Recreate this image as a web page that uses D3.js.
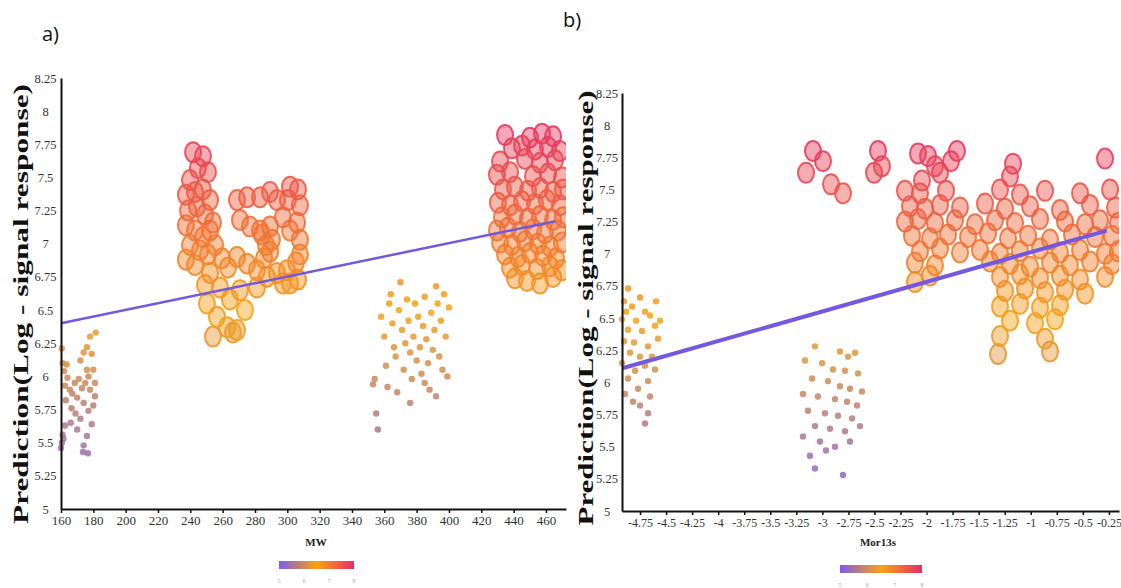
<!DOCTYPE html>
<html><head><meta charset="utf-8">
<script src="https://cdn.jsdelivr.net/npm/d3@7"></script>
<style>body{margin:0;background:#fff}svg{display:block}</style>
</head><body>
<svg id="c" width="1121" height="588"></svg>
<script>
// ---------- data ----------
const yTicks = [5,5.25,5.5,5.75,6,6.25,6.5,6.75,7,7.25,7.5,7.75,8,8.25];
const aXTicks = [160,180,200,220,240,260,280,300,320,340,360,380,400,420,440,460];
const bXTicks = [-4.75,-4.5,-4.25,-4,-3.75,-3.5,-3.25,-3,-2.75,-2.5,-2.25,-2,-1.75,-1.5,-1.25,-1,-0.75,-0.5,-0.25];
const legendTicks = [5,6,7,8];
const yTitle = "Prediction(Log - signal response)";

// panel a: small dots (MW, prediction)
const aDotsLeft = [[160.5,6.21],[161,6.10],[163.5,6.09],[162,6.04],[164,5.99],[162.5,5.93],[165.5,5.90],[163,5.82],[166.5,5.76],[162.5,5.63],[161,5.56],[160.5,5.50],[160,5.46],[161.5,5.53],[167,5.87],[168.5,5.95],[170,5.84],[171,5.98],[169,5.72],[172,5.68],[174,5.80],[173,5.91],[175,5.95],[176,6.05],[174,6.18],[176,6.22],[178,6.30],[179,6.17],[180,6.05],[178,5.90],[181,5.85],[180,5.78],[177,5.74],[179,5.64],[176,5.55],[174,5.48],[173.6,5.43],[176.7,5.42],[172,6.12],[181.5,6.33],[170,5.60],[166,5.65],[177,6.00],[181,5.95]];
const aDotsMid = [[353,5.94],[355,5.72],[356,5.60],[354,5.98],[358,6.45],[360,6.30],[361,6.08],[362,5.92],[364,6.62],[365,6.40],[366,6.22],[367,6.15],[368,5.88],[369,6.50],[370,6.71],[371,6.35],[372,6.05],[373,6.25],[374,6.58],[375,6.42],[376,6.18],[377,5.98],[378,6.30],[379,6.55],[380,6.12],[381,6.45],[382,6.22],[383,6.02],[384,6.38],[385,6.60],[386,6.28],[387,6.10],[388,5.90],[389,6.48],[390,6.20],[391,6.35],[392,5.85],[393,6.55],[394,6.15],[395,6.42],[396,6.05],[397,6.62],[398,6.30],[399,6.00],[400,6.52],[363,6.55],[376,5.80],[385,5.95],[392,6.68]];
// panel a: large circles
const aCircles = [
 [241.7,7.69],[247.8,7.66],[244.7,7.57],[250.9,7.54],[239.8,7.48],
 [237.3,7.37],[242.9,7.39],[247.8,7.41],[252.2,7.33],[238.6,7.25],[244.1,7.28],[249.1,7.22],[254.0,7.16],[237.3,7.14],[242.9,7.10],[247.8,7.05],[252.2,7.10],[239.8,6.99],[246.0,6.95],[250.9,6.92],[255.3,6.99],[237.3,6.88],[242.9,6.84],[259.6,6.89],[263.3,6.82],
 [268.9,7.33],[275.1,7.35],[283.1,7.35],[289.3,7.39],[293.6,7.33],[300.4,7.33],[301.7,7.43],[306.6,7.41],[307.8,7.29],
 [270.7,7.18],[276.9,7.13],[283.1,7.10],[289.3,7.13],[297.3,7.20],[301.7,7.10],[306.0,7.16],[307.8,7.03],
 [284.3,7.07],[286.8,6.99],[289.3,6.94],[285.6,6.89],[290.5,7.03],
 [268.9,6.90],[275.1,6.85],[281.2,6.80],[287.4,6.75],[293.6,6.78],[299.8,6.80],[301.7,6.70],[297.3,6.70],[281.2,6.67],[305.4,6.86],[306.6,6.73],[307.8,6.92],
 [252.2,6.78],[258.4,6.67],[250.3,6.55],[256.5,6.45],[262.7,6.37],[266.4,6.33],[254.0,6.30],[268.9,6.35],[249.1,6.69],[264.5,6.58],[270.7,6.65],[273.8,6.50],
 [434.7,7.82],[450.1,7.80],[457.6,7.83],[464.4,7.81],
 [439.0,7.72],[445.2,7.74],[453.2,7.71],[461.3,7.73],[468.7,7.70],
 [431.6,7.62],[447.0,7.64],[456.3,7.61],[465.6,7.63],
 [429.7,7.52],[437.8,7.54],[452.0,7.51],[461.3,7.53],[469.9,7.50],
 [433.4,7.41],[440.8,7.43],[448.9,7.40],[456.3,7.42],[464.4,7.39],[470.5,7.41],
 [430.3,7.31],[437.8,7.29],[445.2,7.32],[453.2,7.30],[460.6,7.33],[468.7,7.29],
 [432.8,7.20],[440.8,7.22],[448.9,7.19],[456.3,7.21],[464.4,7.18],[470.5,7.20],
 [429.7,7.10],[436.5,7.12],[443.9,7.09],[452.0,7.11],[459.4,7.08],[467.4,7.10],
 [431.6,7.01],[439.0,6.99],[447.0,7.02],[455.1,7.00],[462.5,6.98],[469.9,7.01],
 [434.7,6.92],[442.7,6.90],[450.1,6.93],[458.2,6.91],[466.2,6.89],
 [437.8,6.82],[445.2,6.84],[454.5,6.81],[462.5,6.83],[469.9,6.80],
 [440.8,6.74],[448.3,6.72],[456.3,6.70],[464.4,6.75]
];
const aFit = [[160,6.40],[465.6,7.17]];

// panel b: small dots (Mor13s, prediction)
const bDotsLeft = [[-4.865,6.73],[-4.75,6.66],[-4.904,6.63],[-4.827,6.59],[-4.702,6.55],[-4.923,6.49],[-4.788,6.48],[-4.654,6.52],[-4.865,6.41],[-4.731,6.40],[-4.606,6.44],[-4.904,6.32],[-4.808,6.31],[-4.673,6.28],[-4.577,6.34],[-4.846,6.23],[-4.75,6.20],[-4.635,6.20],[-4.923,6.15],[-4.702,6.13],[-4.798,6.09],[-4.606,6.10],[-4.865,6.03],[-4.673,6.01],[-4.769,5.95],[-4.894,5.91],[-4.654,5.89],[-4.75,5.82],[-4.673,5.76],[-4.702,5.68],[-4.817,5.85],[-4.596,6.63],[-4.558,6.48],[-4.884,6.55]];
const bDotsMid = [[-3.071,6.28],[-2.831,6.24],[-2.754,6.20],[-2.686,6.23],[-3.167,6.17],[-3.003,6.15],[-2.898,6.10],[-2.783,6.09],[-2.658,6.07],[-3.099,6.03],[-2.946,6.01],[-2.831,5.97],[-2.735,5.95],[-2.620,5.93],[-3.186,5.91],[-3.042,5.89],[-2.879,5.87],[-2.763,5.85],[-2.667,5.82],[-3.138,5.78],[-2.975,5.76],[-2.850,5.74],[-2.715,5.72],[-3.071,5.66],[-2.927,5.64],[-2.783,5.62],[-3.186,5.58],[-3.023,5.54],[-2.879,5.50],[-3.119,5.43],[-3.071,5.33],[-2.802,5.28],[-2.965,5.47],[-2.735,5.54],[-2.639,5.66]];
const bCircles = [
 [-3.157,7.63],[-3.090,7.80],[-2.994,7.72],[-2.917,7.54],[-2.802,7.47],[-2.466,7.80],[-2.428,7.68],[-2.504,7.63],[-2.082,7.78],[-1.986,7.76],[-2.044,7.57],[-1.871,7.63],[-1.765,7.72],[-1.708,7.80],[-1.813,7.49],[-1.919,7.68],[-1.170,7.70],[-0.287,7.74],
 [-1.199,7.60],
 [-2.207,7.49],[-2.063,7.47],[-1.295,7.50],[-1.103,7.46],[-0.863,7.49],[-0.527,7.47],[-0.239,7.50],
 [-2.159,7.37],[-2.015,7.35],[-1.871,7.38],[-1.679,7.36],[-1.439,7.39],[-1.247,7.35],[-1.007,7.37],[-0.719,7.34],[-0.431,7.38],[-0.191,7.36],
 [-2.207,7.25],[-2.082,7.27],[-1.919,7.24],[-1.727,7.26],[-1.535,7.23],[-1.343,7.26],[-1.151,7.24],[-0.911,7.27],[-0.671,7.25],[-0.479,7.23],[-0.335,7.26],[-0.163,7.24],
 [-2.140,7.14],[-1.967,7.12],[-1.794,7.15],[-1.602,7.13],[-1.410,7.16],[-1.218,7.12],[-1.026,7.14],[-0.815,7.11],[-0.604,7.15],[-0.383,7.13],[-0.220,7.14],
 [-2.063,7.02],[-1.871,7.04],[-1.679,7.01],[-1.487,7.03],[-1.295,7.00],[-1.103,7.02],[-0.911,7.04],[-0.719,7.01],[-0.527,7.03],[-0.287,7.00],[-0.163,7.02],
 [-2.111,6.93],[-1.919,6.91],[-1.391,6.94],[-1.199,6.92],[-1.007,6.90],[-0.815,6.93],[-0.623,6.91],[-0.431,6.94],[-0.220,6.92],
 [-1.967,6.83],[-2.111,6.78],[-1.295,6.82],[-1.103,6.84],[-0.911,6.81],[-0.719,6.83],[-0.527,6.80],[-0.287,6.82],
 [-1.247,6.71],[-1.055,6.73],[-0.863,6.70],[-0.671,6.72],[-0.479,6.69],
 [-1.295,6.59],[-1.103,6.61],[-0.911,6.58],[-0.719,6.60],
 [-1.199,6.48],[-0.959,6.46],[-0.767,6.49],
 [-1.295,6.36],[-0.863,6.34],
 [-1.314,6.22],[-0.815,6.24]
];
const bFit = [[-4.92,6.11],[-0.27,7.18]];

// ---------- drawing ----------
const svg = d3.select("#c");
const colorStops = ["#7b5cf2","#b88078","#f6a416","#ee693e","#e12d6d"];
const color = d3.scaleLinear().domain([5,5.75,6.5,7.25,8]).range(colorStops);

const defs = svg.append("defs");
const grad = defs.append("linearGradient").attr("id","cbar");
colorStops.forEach((c,i)=>grad.append("stop").attr("offset",(i*25)+"%").attr("stop-color",c));

function panel(cfg){
  const x = d3.scaleLinear().domain(cfg.xDomain).range(cfg.xRange);
  const y = d3.scaleLinear().domain([5,8.25]).range(cfg.yRange);
  const g = svg.append("g");
  const clipId = "clip"+cfg.id;
  defs.append("clipPath").attr("id",clipId).append("rect")
    .attr("x",cfg.xRange[0]-6).attr("y",cfg.yRange[1]-5)
    .attr("width",cfg.xRange[1]-cfg.xRange[0]+6).attr("height",cfg.yRange[0]-cfg.yRange[1]+5);
  const plot = g.append("g").attr("clip-path",`url(#${clipId})`);

  const dots = cfg.dots.slice().sort((a,b)=>a[1]-b[1]);
  plot.selectAll("circle.dot").data(dots).join("circle").attr("class","dot")
    .attr("cx",d=>x(d[0])).attr("cy",d=>y(d[1])).attr("r",3.2)
    .attr("fill",d=>color(d[1])).attr("fill-opacity",0.85);

  const circ = cfg.circles.slice().sort((a,b)=>a[1]-b[1]);
  plot.selectAll("ellipse").data(circ).join("ellipse")
    .attr("cx",d=>x(d[0])).attr("cy",d=>y(d[1])).attr("rx",8).attr("ry",10)
    .attr("fill",d=>color(d[1])).attr("fill-opacity",0.45)
    .attr("stroke",d=>color(d[1])).attr("stroke-opacity",0.9).attr("stroke-width",2);

  plot.append("path").datum(cfg.fit)
    .attr("d",d3.line().x(d=>x(d[0])).y(d=>y(d[1])))
    .attr("stroke","#7358e0").attr("stroke-width",cfg.fitW).attr("fill","none");

  // axes
  const ya = g.append("g").attr("transform",`translate(${cfg.xRange[0]},0)`)
    .call(d3.axisLeft(y).tickValues(yTicks).tickSize(0).tickPadding(0).tickFormat(d=>String(d)));
  ya.select(".domain").attr("stroke","#111").attr("stroke-width",2);
  ya.selectAll("text").attr("x",cfg.yLabelX - cfg.xRange[0]).attr("text-anchor","middle")
    .attr("font-family","Liberation Serif").attr("font-size",12.5).attr("fill","#333");

  const xa = g.append("g").attr("transform",`translate(0,${cfg.yRange[0]})`)
    .call(d3.axisBottom(x).tickValues(cfg.xTicks).tickSizeInner(4).tickSizeOuter(0).tickPadding(3).tickFormat(d=>String(d)));
  xa.select(".domain").attr("stroke","#111").attr("stroke-width",2);
  xa.selectAll(".tick line").attr("stroke","#111").attr("stroke-width",1.5);
  xa.selectAll("text").attr("font-family","Liberation Serif").attr("font-size",cfg.xFont).attr("fill","#333");

  // y title
  g.append("text").attr("transform",`translate(${cfg.yTitleX},${cfg.yTitleY}) rotate(-90)`)
    .attr("text-anchor","middle").attr("font-family","Liberation Serif").attr("font-weight","bold")
    .attr("font-size",22).attr("textLength",cfg.yTitleLen).attr("lengthAdjust","spacingAndGlyphs")
    .attr("fill","#111").text(yTitle);

  // panel letter
  g.append("text").attr("x",cfg.letterX).attr("y",cfg.letterY).attr("font-family","Open Sans")
    .attr("font-size",20).attr("fill","#111").text(cfg.letter);

  // x title
  g.append("text").attr("x",cfg.xTitleX).attr("y",546).attr("text-anchor","middle")
    .attr("font-family","Liberation Serif").attr("font-weight","bold").attr("font-size",11)
    .attr("fill","#222").text(cfg.xTitle);

  // colour legend
  const lx = d3.scaleLinear().domain([5,8]).range(cfg.legendRange);
  g.append("rect").attr("x",cfg.legendRange[0]).attr("y",cfg.legendY)
    .attr("width",cfg.legendRange[1]-cfg.legendRange[0]).attr("height",8).attr("fill","url(#cbar)");
  g.selectAll("text.lt").data(legendTicks).join("text").attr("class","lt")
    .attr("x",d=>lx(d)).attr("y",cfg.legendY+22).attr("text-anchor","middle")
    .attr("font-family","Liberation Serif").attr("font-size",6).attr("fill","#aaa").text(d=>d);
}

panel({id:"a", xDomain:[160,472.4], xRange:[61,566], yRange:[509,78], xTicks:aXTicks, xFont:13,
  yLabelX:45.5,
  dots:aDotsLeft.concat(aDotsMid), circles:aCircles, fit:aFit, fitW:2.5,
  yTitleX:28, yTitleY:304, yTitleLen:440, letter:"a)", letterX:42, letterY:41,
  xTitle:"MW", xTitleX:316, legendRange:[279,354], legendY:561});

panel({id:"b", xDomain:[-4.923,-0.153], xRange:[622,1119], yRange:[511,93], xTicks:bXTicks, xFont:12,
  yLabelX:607,
  dots:bDotsLeft.concat(bDotsMid), circles:bCircles, fit:bFit, fitW:4,
  yTitleX:593, yTitleY:308, yTitleLen:435, letter:"b)", letterX:563, letterY:27,
  xTitle:"Mor13s", xTitleX:878, legendRange:[840,922], legendY:565});
</script>
</body></html>
